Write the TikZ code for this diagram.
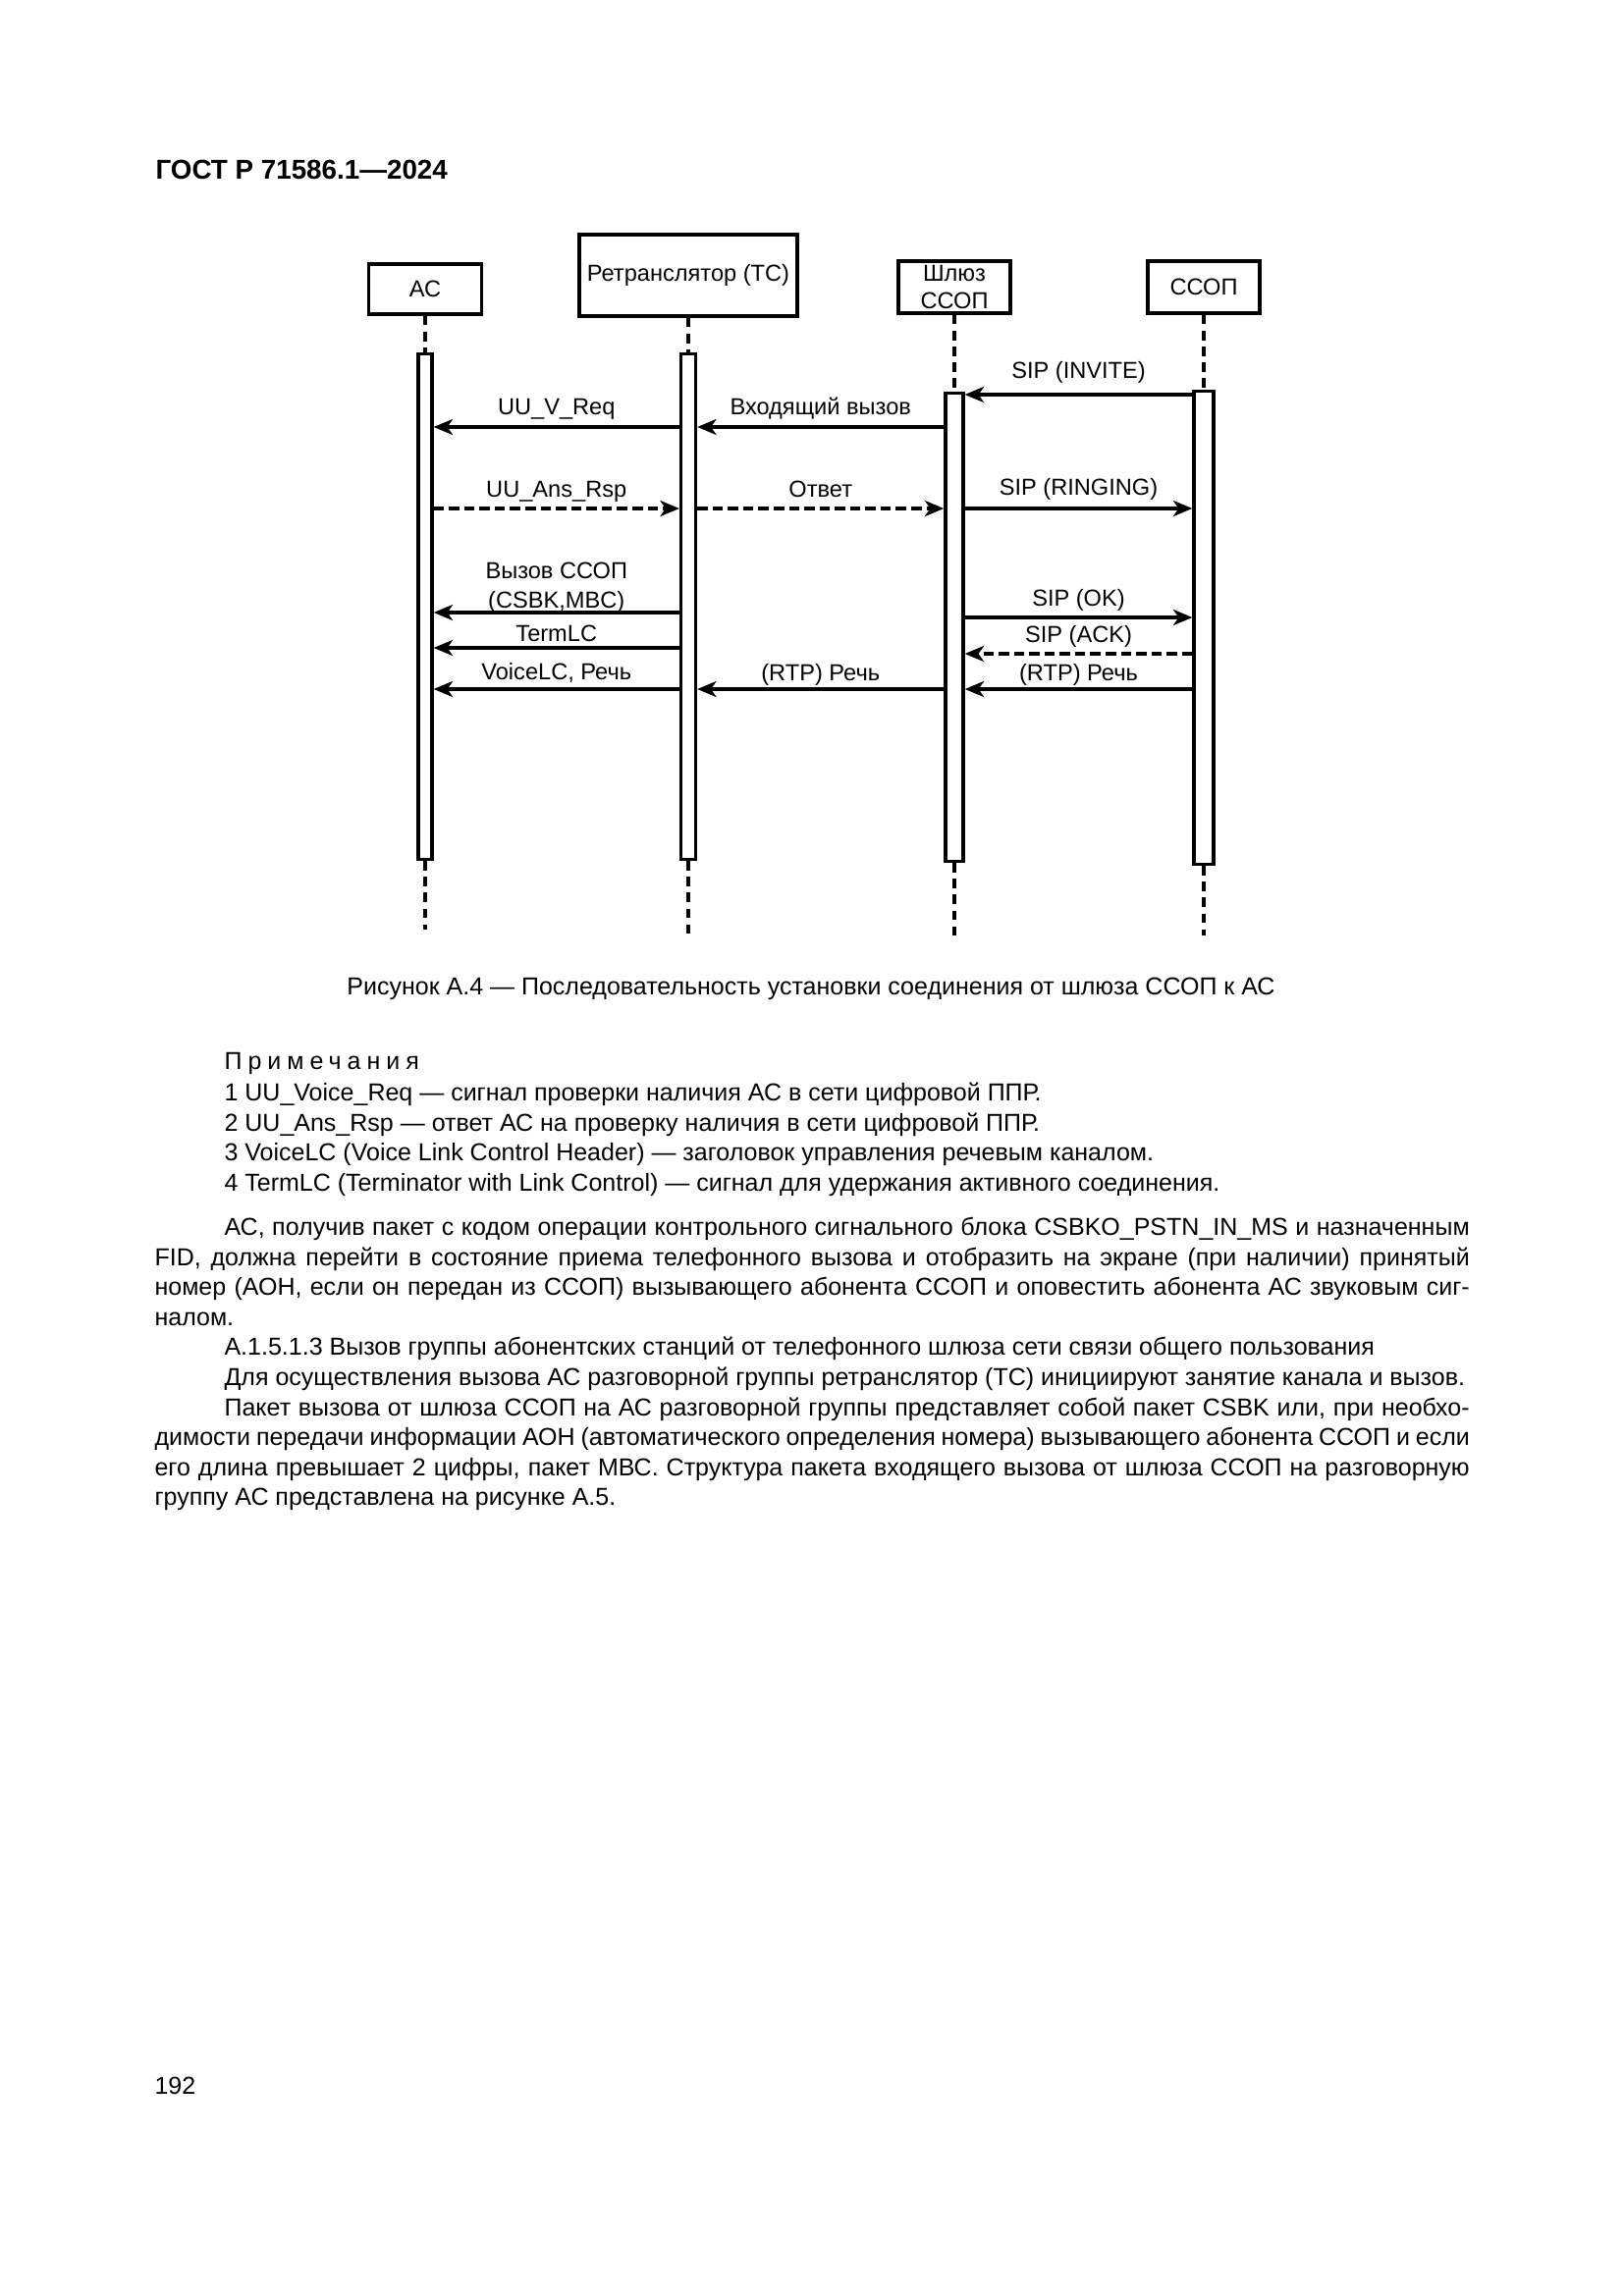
\documentclass[tikz,border=0pt]{standalone}
\usepackage{fontspec}
\setmainfont{Liberation Sans}
\usetikzlibrary{arrows.meta}
\newcommand{\dfnt}{\fontsize{8.5}{10}\selectfont}
\newcommand{\bfnt}{\fontsize{9}{11}\selectfont}
\newcommand{\nfnt}{\fontsize{9}{11}\selectfont}
% one justified line of body text
\newcommand{\fullline}[2]{\node[txt] at (157,#1) {\hbox to 482pt{#2}};}
\newcommand{\indline}[2]{\node[txt] at (228,#1) {\hbox to 456.4pt{#2}};}

\begin{document}
\begin{tikzpicture}[x=0.3599pt, y=-0.3599pt,
    box/.style={draw, line width=1.4pt, align=center, inner sep=0pt, font=\dfnt},
    bar/.style={draw, line width=1.2pt, fill=white, inner sep=0pt},
    life/.style={line width=1.1pt, dash pattern=on 3.4pt off 2.4pt},
    msg/.style={line width=1.1pt, -{Stealth[length=7pt, width=5.8pt, inset=2pt]}},
    rsp/.style={msg, dash pattern=on 3.8pt off 1.8pt},
    lbl/.style={anchor=base, inner sep=0pt, font=\dfnt, yshift=#1*0.3599pt},
    lbl/.default=12,
    txt/.style={anchor=base west, inner sep=0pt, font=\bfnt}]
  \useasboundingbox[fill=white] (0,0) rectangle (1654,2339);

  \node[anchor=base west, inner sep=0pt, font=\fontsize{10}{12}\selectfont\bfseries] (head) at (158,182) {ГОСТ Р 71586.1—2024};

  % participants
  \node[box, minimum width=115*0.3599pt, minimum height=51*0.3599pt] (acbox) at (433,294.5) {АС};
  \node[box, minimum width=222*0.3599pt, minimum height=83*0.3599pt] (tcbox) at (701,280.5) {Ретранслятор (ТС)};
  \node[box, minimum width=114*0.3599pt, minimum height=53*0.3599pt] (gwbox) at (972,292.5) {Шлюз\\ССОП};
  \node[box, minimum width=114*0.3599pt, minimum height=53*0.3599pt] (psbox) at (1226,292.5) {ССОП};

  % activation bars
  \node[bar, minimum width=14*0.3599pt, minimum height=515*0.3599pt] (acbar) at (433,618) {};
  \node[bar, minimum width=15*0.3599pt, minimum height=515*0.3599pt] (tcbar) at (701,618) {};
  \node[bar, minimum width=18*0.3599pt, minimum height=477*0.3599pt] (gwbar) at (972,639) {};
  \node[bar, minimum width=20*0.3599pt, minimum height=482*0.3599pt] (psbar) at (1226,639.5) {};

  \coordinate (acend) at (433,947);
  \coordinate (tcend) at (701,953);
  \coordinate (gwend) at (972,953);
  \coordinate (psend) at (1226,953);

  % lifelines
  \draw[life] (acbox.south) -- (acbar.north);
  \draw[life] (tcbox.south) -- (tcbar.north);
  \draw[life] (gwbox.south) -- (gwbar.north);
  \draw[life] (psbox.south) -- (psbar.north);
  \draw[life] (acbar.south) -- (acend);
  \draw[life] (tcbar.south) -- (tcend);
  \draw[life] (gwbar.south) -- (gwend);
  \draw[life] (psbar.south) -- (psend);

  % messages
  \draw[msg] (psbar.west |- 0,402) -- node[lbl=17] {SIP (INVITE)} (gwbar.east |- 0,402);
  \draw[msg] (gwbar.west |- 0,435) -- node[lbl=13] {Входящий вызов} (tcbar.east |- 0,435);
  \draw[msg] (tcbar.west |- 0,435) -- node[lbl=13] {UU\_V\_Req} (acbar.east |- 0,435);
  \draw[rsp] (acbar.east |- 0,518) -- node[lbl] {UU\_Ans\_Rsp} (tcbar.west |- 0,518);
  \draw[rsp] (tcbar.east |- 0,518) -- node[lbl] {Ответ} (gwbar.west |- 0,518);
  \draw[msg] (gwbar.east |- 0,518) -- node[lbl=14] {SIP (RINGING)} (psbar.west |- 0,518);
  \draw[msg] (tcbar.west |- 0,624) -- node[lbl=5] {(CSBK,MBC)} node[lbl=35] {Вызов ССОП} (acbar.east |- 0,624);
  \draw[msg] (gwbar.east |- 0,629) -- node[lbl] {SIP (OK)} (psbar.west |- 0,629);
  \draw[msg] (tcbar.west |- 0,660) -- node[lbl=7] {TermLC} (acbar.east |- 0,660);
  \draw[rsp] (psbar.west |- 0,666) -- node[lbl] {SIP (ACK)} (gwbar.east |- 0,666);
  \draw[msg] (psbar.west |- 0,702) -- node[lbl=9] {(RTP) Речь} (gwbar.east |- 0,702);
  \draw[msg] (gwbar.west |- 0,702) -- node[lbl=9] {(RTP) Речь} (tcbar.east |- 0,702);
  \draw[msg] (tcbar.west |- 0,702) -- node[lbl=10] {VoiceLC, Речь} (acbar.east |- 0,702);

  \node[anchor=base, inner sep=0pt, font=\bfnt] (caption) at (826,1013) {Рисунок А.4 — Последовательность установки соединения от шлюза ССОП к АС};

  % notes
  \node[txt, font=\nfnt\addfontfeature{LetterSpace=24}] (notes) at (228,1089) {Примечания};
  \node[txt, font=\nfnt] (n1) at (228,1121) {1 UU\_Voice\_Req — сигнал проверки наличия АС в сети цифровой ППР.};
  \node[txt, font=\nfnt] (n2) at (228,1152) {2 UU\_Ans\_Rsp — ответ АС на проверку наличия в сети цифровой ППР.};
  \node[txt, font=\nfnt] (n3) at (228,1182) {3 VoiceLC (Voice Link Control Header) — заголовок управления речевым каналом.};
  \node[txt, font=\nfnt] (n4) at (228,1213) {4 TermLC (Terminator with Link Control) — сигнал для удержания активного соединения.};

  % body text
  \indline{1258}{АС, получив пакет с кодом операции контрольного сигнального блока CSBKO\_PSTN\_IN\_MS и назначенным}
  \fullline{1289}{FID, должна перейти в состояние приема телефонного вызова и отобразить на экране (при наличии) принятый}
  \fullline{1319}{номер (АОН, если он передан из ССОП) вызывающего абонента ССОП и оповестить абонента АС звуковым сиг-}
  \node[txt] (b4) at (157,1350) {налом.};
  \node[txt] (b5) at (228,1380) {А.1.5.1.3 Вызов группы абонентских станций от телефонного шлюза сети связи общего пользования};
  \node[txt] (b6) at (228,1411) {Для осуществления вызова АС разговорной группы ретранслятор (ТС) инициируют занятие канала и вызов.};
  \indline{1442}{Пакет вызова от шлюза ССОП на АС разговорной группы представляет собой пакет CSBK или, при необхо-}
  \fullline{1472}{димости передачи информации АОН (автоматического определения номера) вызывающего абонента ССОП и если}
  \fullline{1503}{его длина превышает 2 цифры, пакет МВС. Структура пакета входящего вызова от шлюза ССОП на разговорную}
  \node[txt] (b10) at (157,1533) {группу АС представлена на рисунке А.5.};

  \node[txt] (page) at (157,2133) {192};
\end{tikzpicture}
\end{document}
